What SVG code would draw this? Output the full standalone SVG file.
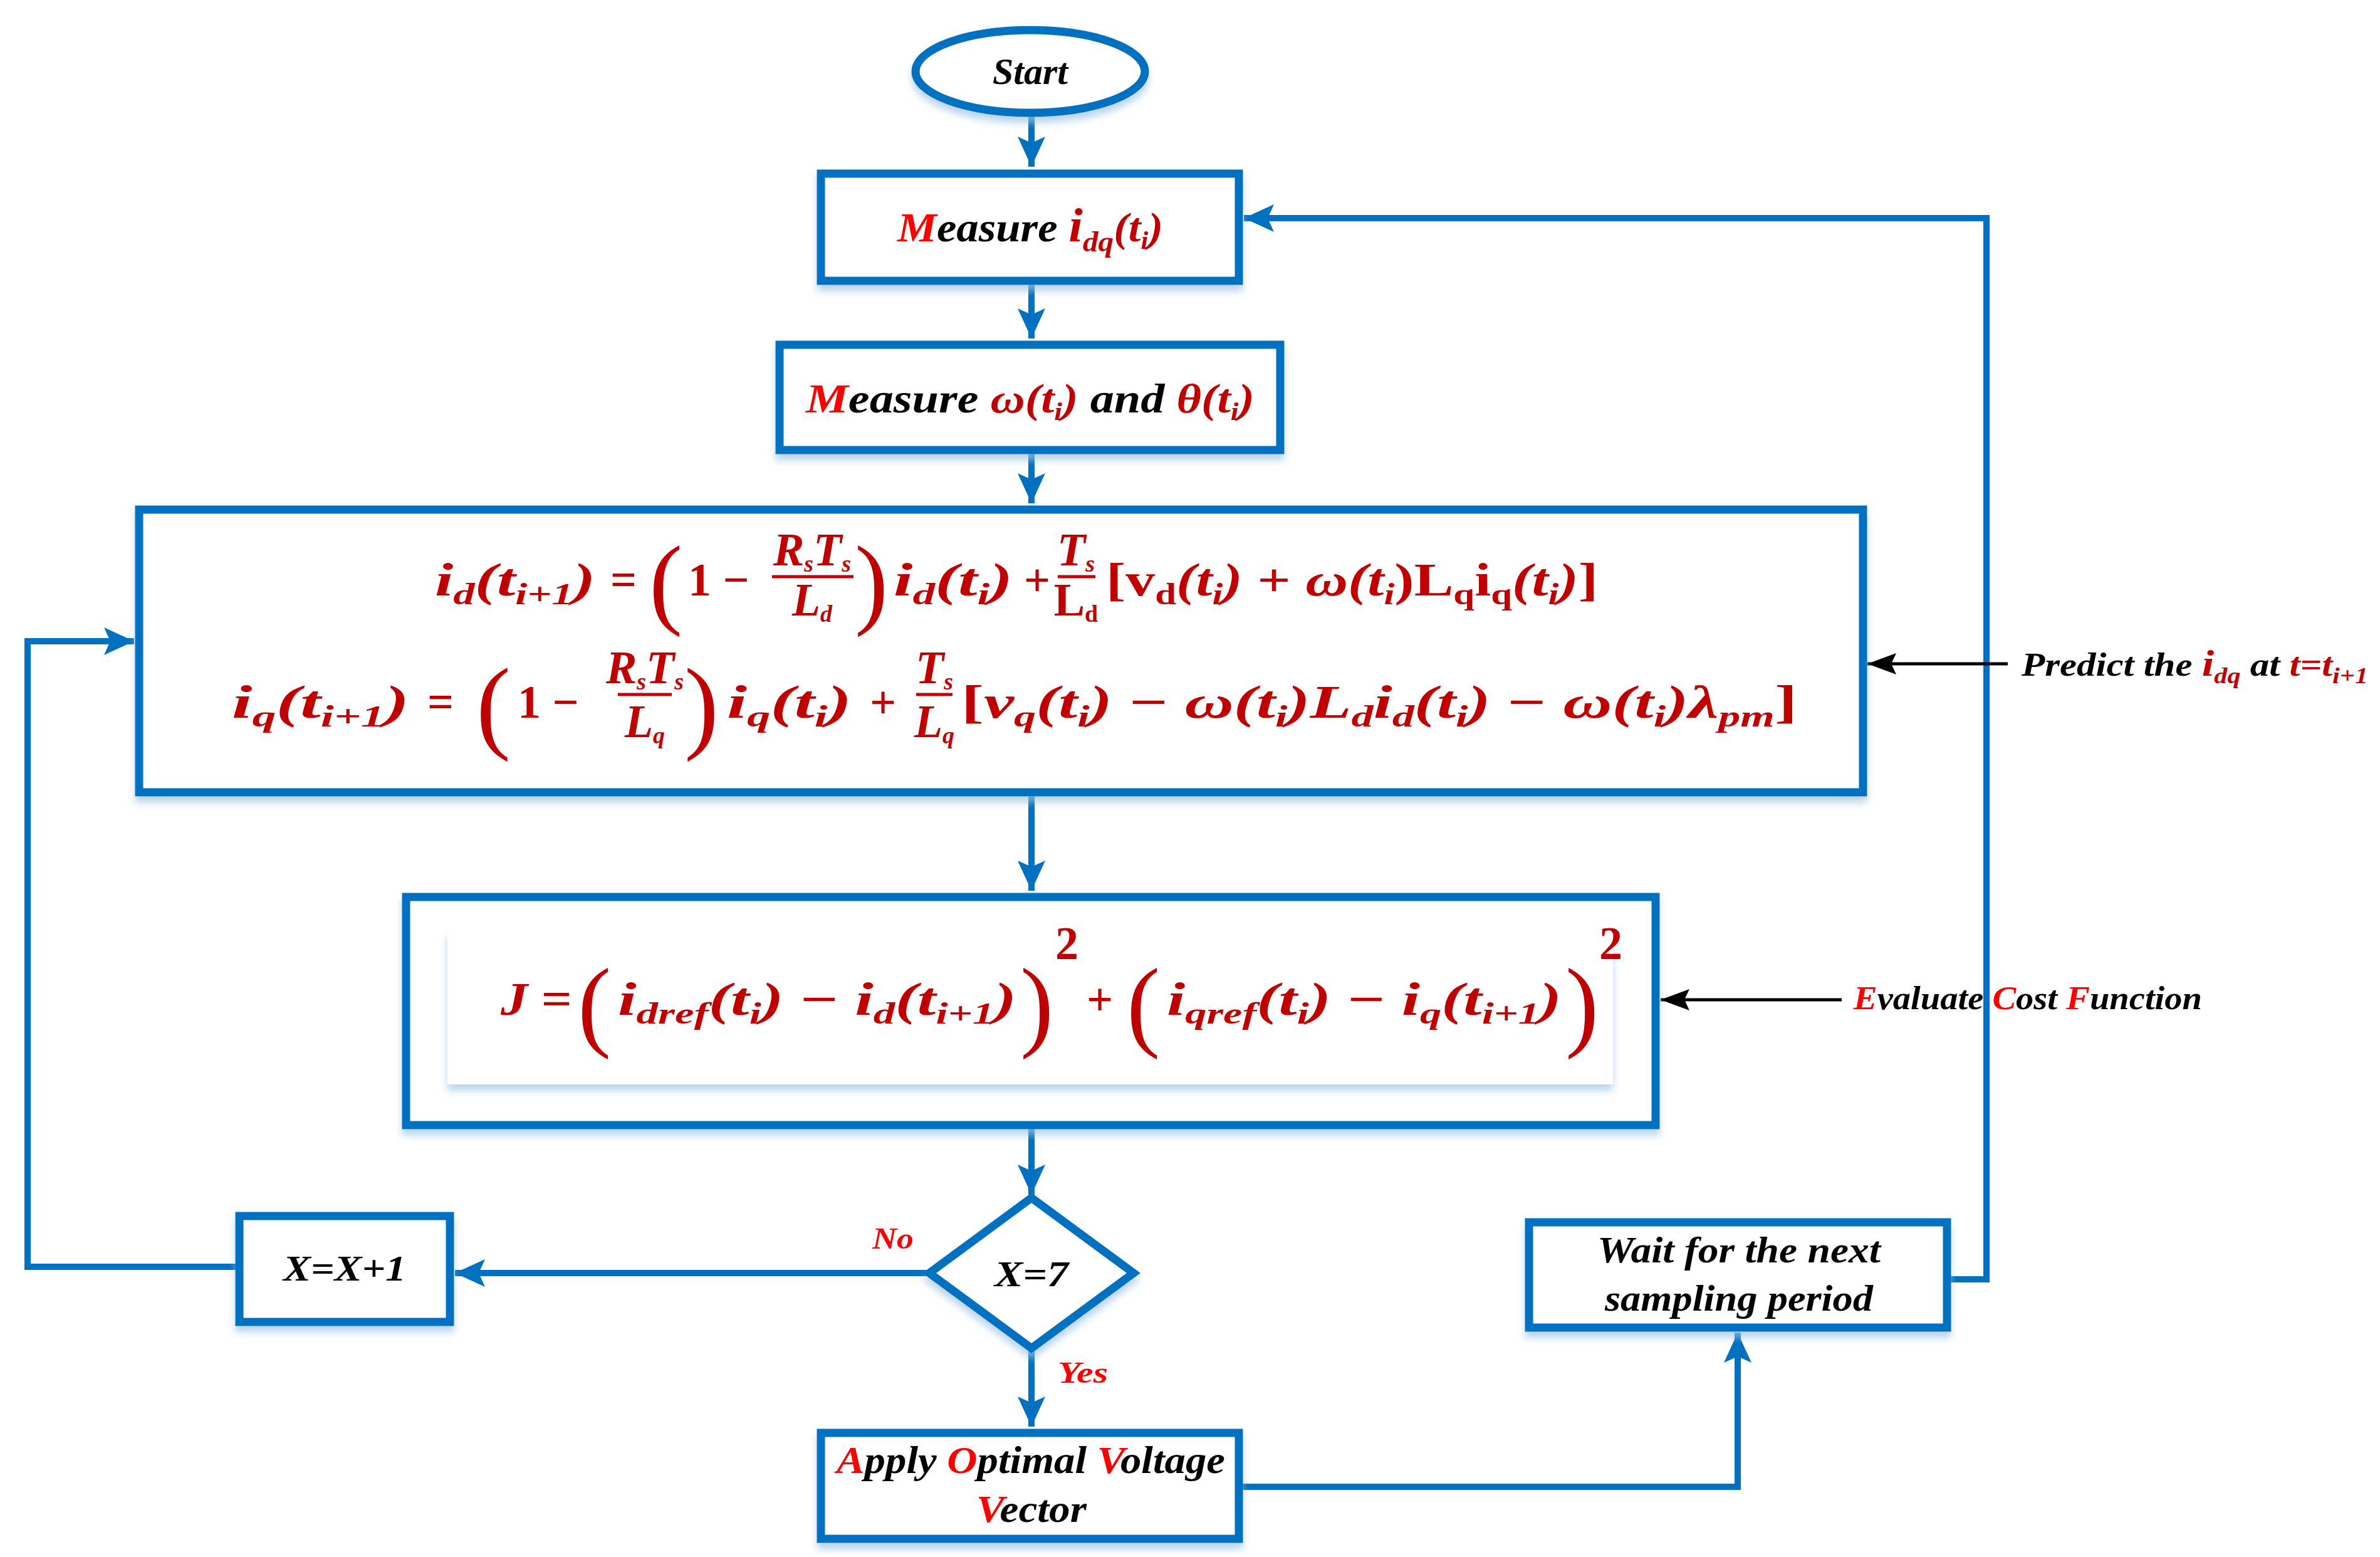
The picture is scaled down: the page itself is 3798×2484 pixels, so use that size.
<svg xmlns="http://www.w3.org/2000/svg" width="3798" height="2484" viewBox="0 0 3798 2484">
<style>
.bx{fill:#fff;stroke:#0070C0;stroke-width:13}
.ln{fill:none;stroke:#0070C0;stroke-width:10}
.bk{fill:none;stroke:#000;stroke-width:5}
.t{font-family:"Liberation Serif",serif;font-weight:bold;font-style:italic;fill:#000}
.r{fill:#FF0000}
.dr{fill:#C00000}
.eq{font-family:"Liberation Serif",serif;font-weight:bold;font-style:italic;fill:#C00000;font-size:74px}
.up{font-style:normal}
.big{font-family:"Liberation Serif",serif;font-weight:normal;fill:#C00000}
.fb{stroke:#C00000;stroke-width:5}
</style>
<defs>
<filter id="sh" x="-10%" y="-10%" width="120%" height="130%">
<feDropShadow dx="0" dy="10" stdDeviation="6" flood-color="#9DC3E6" flood-opacity="0.7"/>
</filter>
<marker id="ab" markerUnits="userSpaceOnUse" markerWidth="50" markerHeight="50" refX="48" refY="22" orient="auto">
<path d="M0,0 L48,22 L0,44 L10,22 Z" fill="#0070C0"/>
</marker>
<marker id="ak" markerUnits="userSpaceOnUse" markerWidth="50" markerHeight="40" refX="46" refY="17" orient="auto">
<path d="M0,0 L46,17 L0,34 L8,17 Z" fill="#000"/>
</marker>
</defs>

<g id="connectors">
<line class="ln" x1="1646" y1="182" x2="1646" y2="266" marker-end="url(#ab)"/>
<line class="ln" x1="1646" y1="454" x2="1646" y2="540" marker-end="url(#ab)"/>
<line class="ln" x1="1646" y1="724" x2="1646" y2="803" marker-end="url(#ab)"/>
<line class="ln" x1="1646" y1="1270" x2="1646" y2="1421" marker-end="url(#ab)"/>
<line class="ln" x1="1646" y1="1801" x2="1646" y2="1906" marker-end="url(#ab)"/>
<line class="ln" x1="1646" y1="2153" x2="1646" y2="2276" marker-end="url(#ab)"/>
<line class="ln" x1="1483" y1="2031" x2="726" y2="2031" marker-end="url(#ab)"/>
<polyline class="ln" points="376,2021 44,2021 44,1023 214,1023" marker-end="url(#ab)"/>
<polyline class="ln" points="1983,2372 2773,2372 2773,2126" marker-end="url(#ab)"/>
<polyline class="ln" points="3113,2041 3170,2041 3170,348 1985,348" marker-end="url(#ab)"/>
<line class="bk" x1="3204" y1="1059" x2="2980" y2="1059" marker-end="url(#ak)"/>
<line class="bk" x1="2939" y1="1595" x2="2650" y2="1595" marker-end="url(#ak)"/>
</g>

<g id="start">
<ellipse cx="1644" cy="114" rx="183" ry="66" fill="#fff" stroke="#0070C0" stroke-width="13" filter="url(#sh)"/>
<text class="t" x="1644" y="134" font-size="60" text-anchor="middle">Start</text>
</g>

<g id="measure-idq">
<rect class="bx" x="1310" y="277" width="667" height="171" filter="url(#sh)"/>
<text class="t" x="1432" y="385" font-size="66" textLength="424" lengthAdjust="spacingAndGlyphs"><tspan class="r">M</tspan>easure <tspan class="dr" font-size="76">i</tspan><tspan class="dr" font-size="46" dy="16">dq</tspan><tspan class="dr" dy="-16">(t</tspan><tspan class="dr" font-size="40" dy="12">i</tspan><tspan class="dr" dy="-12">)</tspan></text>
</g>

<g id="measure-omega">
<rect class="bx" x="1244" y="550" width="799" height="168" filter="url(#sh)"/>
<text class="t" x="1286" y="658" font-size="66" textLength="716" lengthAdjust="spacingAndGlyphs"><tspan class="r">M</tspan>easure  <tspan class="dr">ω(t</tspan><tspan class="dr" font-size="40" dy="12">i</tspan><tspan class="dr" dy="-12">)</tspan>  and <tspan class="dr">θ(t</tspan><tspan class="dr" font-size="40" dy="12">i</tspan><tspan class="dr" dy="-12">)</tspan></text>
</g>

<g id="predict">
<rect class="bx" x="222" y="813" width="2751" height="451" filter="url(#sh)"/>
<text class="eq" x="694" y="950" textLength="256" lengthAdjust="spacingAndGlyphs">i<tspan font-size="48" dy="14">d</tspan><tspan dy="-14">(t</tspan><tspan font-size="48" dy="14">i+1</tspan><tspan dy="-14">)</tspan></text>
<text class="eq up" x="974" y="950">=</text>
<text class="big" x="1036" y="982" font-size="160">(</text>
<text class="eq up" x="1098" y="950">1 −</text>
<text class="eq" x="1296" y="902" font-size="58" text-anchor="middle">R<tspan font-size="38" dy="10">s</tspan><tspan dy="-10">T</tspan><tspan font-size="38" dy="10">s</tspan></text>
<line class="fb" x1="1232" y1="920" x2="1362" y2="920"/>
<text class="eq" x="1296" y="982" font-size="58" text-anchor="middle">L<tspan font-size="38" dy="10">d</tspan></text>
<text class="big" x="1364" y="982" font-size="160">)</text>
<text class="eq" x="1426" y="950" textLength="190" lengthAdjust="spacingAndGlyphs">i<tspan font-size="48" dy="14">d</tspan><tspan dy="-14">(t</tspan><tspan font-size="48" dy="14">i</tspan><tspan dy="-14">)</tspan></text>
<text class="eq up" x="1634" y="950">+</text>
<text class="eq" x="1717" y="902" font-size="58" text-anchor="middle">T<tspan font-size="38" dy="10">s</tspan></text>
<line class="fb" x1="1688" y1="920" x2="1748" y2="920"/>
<text class="eq up" x="1717" y="982" font-size="58" text-anchor="middle">L<tspan font-size="38" dy="10">d</tspan></text>
<text class="eq" x="1765" y="950" textLength="785" lengthAdjust="spacingAndGlyphs"><tspan class="up">[v</tspan><tspan class="up" font-size="48" dy="14">d</tspan><tspan dy="-14">(t</tspan><tspan font-size="48" dy="14">i</tspan><tspan dy="-14">) </tspan><tspan class="up">+</tspan> ω(t<tspan font-size="48" dy="14">i</tspan><tspan dy="-14" class="up">)L</tspan><tspan class="up" font-size="48" dy="14">q</tspan><tspan class="up" dy="-14">i</tspan><tspan class="up" font-size="48" dy="14">q</tspan><tspan dy="-14">(t</tspan><tspan font-size="48" dy="14">i</tspan><tspan dy="-14">)</tspan><tspan class="up">]</tspan></text>
<text class="eq" x="370" y="1145" textLength="283" lengthAdjust="spacingAndGlyphs">i<tspan font-size="48" dy="14">q</tspan><tspan dy="-14">(t</tspan><tspan font-size="48" dy="14">i+1</tspan><tspan dy="-14">)</tspan></text>
<text class="eq up" x="682" y="1145">=</text>
<text class="big" x="760" y="1180" font-size="165">(</text>
<text class="eq up" x="826" y="1145">1 −</text>
<text class="eq" x="1029" y="1090" font-size="58" text-anchor="middle">R<tspan font-size="38" dy="10">s</tspan><tspan dy="-10">T</tspan><tspan font-size="38" dy="10">s</tspan></text>
<line class="fb" x1="986" y1="1108" x2="1072" y2="1108"/>
<text class="eq" x="1029" y="1176" font-size="58" text-anchor="middle">L<tspan font-size="38" dy="10">q</tspan></text>
<text class="big" x="1092" y="1180" font-size="165">)</text>
<text class="eq" x="1160" y="1145" textLength="199" lengthAdjust="spacingAndGlyphs">i<tspan font-size="48" dy="14">q</tspan><tspan dy="-14">(t</tspan><tspan font-size="48" dy="14">i</tspan><tspan dy="-14">)</tspan></text>
<text class="eq up" x="1388" y="1145">+</text>
<text class="eq" x="1491" y="1090" font-size="58" text-anchor="middle">T<tspan font-size="38" dy="10">s</tspan></text>
<line class="fb" x1="1462" y1="1108" x2="1520" y2="1108"/>
<text class="eq" x="1491" y="1176" font-size="58" text-anchor="middle">L<tspan font-size="38" dy="10">q</tspan></text>
<text class="eq" x="1534" y="1145" textLength="1334" lengthAdjust="spacingAndGlyphs"><tspan class="up">[</tspan>v<tspan font-size="48" dy="14">q</tspan><tspan dy="-14">(t</tspan><tspan font-size="48" dy="14">i</tspan><tspan dy="-14">) </tspan><tspan class="up">−</tspan> ω(t<tspan font-size="48" dy="14">i</tspan><tspan dy="-14">)L</tspan><tspan font-size="48" dy="14">d</tspan><tspan dy="-14">i</tspan><tspan font-size="48" dy="14">d</tspan><tspan dy="-14">(t</tspan><tspan font-size="48" dy="14">i</tspan><tspan dy="-14">) </tspan><tspan class="up">−</tspan> ω(t<tspan font-size="48" dy="14">i</tspan><tspan dy="-14">)λ</tspan><tspan font-size="48" dy="14">pm</tspan><tspan class="up" dy="-14">]</tspan></text>
</g>

<g id="cost">
<rect class="bx" x="648" y="1431" width="1994" height="364" filter="url(#sh)"/>
<rect x="714" y="1485" width="1860" height="245" fill="#fff" filter="url(#sh)"/>
<text class="eq" x="799" y="1619" textLength="114" lengthAdjust="spacingAndGlyphs">J <tspan class="up">=</tspan></text>
<text class="big" x="922" y="1656" font-size="160">(</text>
<text class="eq" x="986" y="1619" textLength="636" lengthAdjust="spacingAndGlyphs">i<tspan font-size="48" dy="14">dref</tspan><tspan dy="-14">(t</tspan><tspan font-size="48" dy="14">i</tspan><tspan dy="-14">) </tspan><tspan class="up">−</tspan> i<tspan font-size="48" dy="14">d</tspan><tspan dy="-14">(t</tspan><tspan font-size="48" dy="14">i+1</tspan><tspan dy="-14">)</tspan></text>
<text class="big" x="1628" y="1656" font-size="160">)</text>
<text class="eq up" x="1684" y="1530" font-size="50">2</text>
<text class="eq up" x="1734" y="1619">+</text>
<text class="big" x="1798" y="1656" font-size="160">(</text>
<text class="eq" x="1862" y="1619" textLength="630" lengthAdjust="spacingAndGlyphs">i<tspan font-size="48" dy="14">qref</tspan><tspan dy="-14">(t</tspan><tspan font-size="48" dy="14">i</tspan><tspan dy="-14">) </tspan><tspan class="up">−</tspan> i<tspan font-size="48" dy="14">q</tspan><tspan dy="-14">(t</tspan><tspan font-size="48" dy="14">i+1</tspan><tspan dy="-14">)</tspan></text>
<text class="big" x="2498" y="1656" font-size="160">)</text>
<text class="eq up" x="2552" y="1530" font-size="50">2</text>
</g>

<g id="decision">
<polygon points="1646,1911 1809,2031 1646,2151 1483,2031" fill="#fff" stroke="#0070C0" stroke-width="13" filter="url(#sh)"/>
<text class="t" x="1646" y="2052" font-size="58" text-anchor="middle" textLength="118" lengthAdjust="spacingAndGlyphs">X=7</text>
</g>

<g id="increment">
<rect class="bx" x="382" y="1940" width="336" height="169" filter="url(#sh)"/>
<text class="t" x="550" y="2043" font-size="58" text-anchor="middle" textLength="196" lengthAdjust="spacingAndGlyphs">X=X+1</text>
</g>

<g id="wait">
<rect class="bx" x="2440" y="1950" width="667" height="168" filter="url(#sh)"/>
<text class="t" x="2775" y="2014" font-size="60" text-anchor="middle" textLength="452" lengthAdjust="spacingAndGlyphs">Wait for the next</text>
<text class="t" x="2775" y="2091" font-size="60" text-anchor="middle" textLength="428" lengthAdjust="spacingAndGlyphs">sampling period</text>
</g>

<g id="apply">
<rect class="bx" x="1310" y="2286" width="667" height="169" filter="url(#sh)"/>
<text class="t" x="1645" y="2350" font-size="62" text-anchor="middle" textLength="620" lengthAdjust="spacingAndGlyphs"><tspan class="r">A</tspan>pply <tspan class="r">O</tspan>ptimal <tspan class="r">V</tspan>oltage</text>
<text class="t" x="1646" y="2428" font-size="62" text-anchor="middle" textLength="176" lengthAdjust="spacingAndGlyphs"><tspan class="r">V</tspan>ector</text>
</g>

<g id="labels">
<text class="t r" x="1392" y="1992" font-size="48" textLength="66" lengthAdjust="spacingAndGlyphs">No</text>
<text class="t r" x="1688" y="2206" font-size="48" textLength="80" lengthAdjust="spacingAndGlyphs">Yes</text>
<text class="t" x="3226" y="1078" font-size="52" textLength="553" lengthAdjust="spacingAndGlyphs">Predict the <tspan class="dr" font-size="60">i</tspan><tspan class="dr" font-size="36" dy="12">dq</tspan><tspan dy="-12">  at </tspan><tspan class="dr">t=t</tspan><tspan class="dr" font-size="36" dy="12">i+1</tspan></text>
<text class="t" x="2958" y="1610" font-size="52" textLength="556" lengthAdjust="spacingAndGlyphs"><tspan class="r">E</tspan>valuate <tspan class="r">C</tspan>ost <tspan class="r">F</tspan>unction</text>
</g>
</svg>
